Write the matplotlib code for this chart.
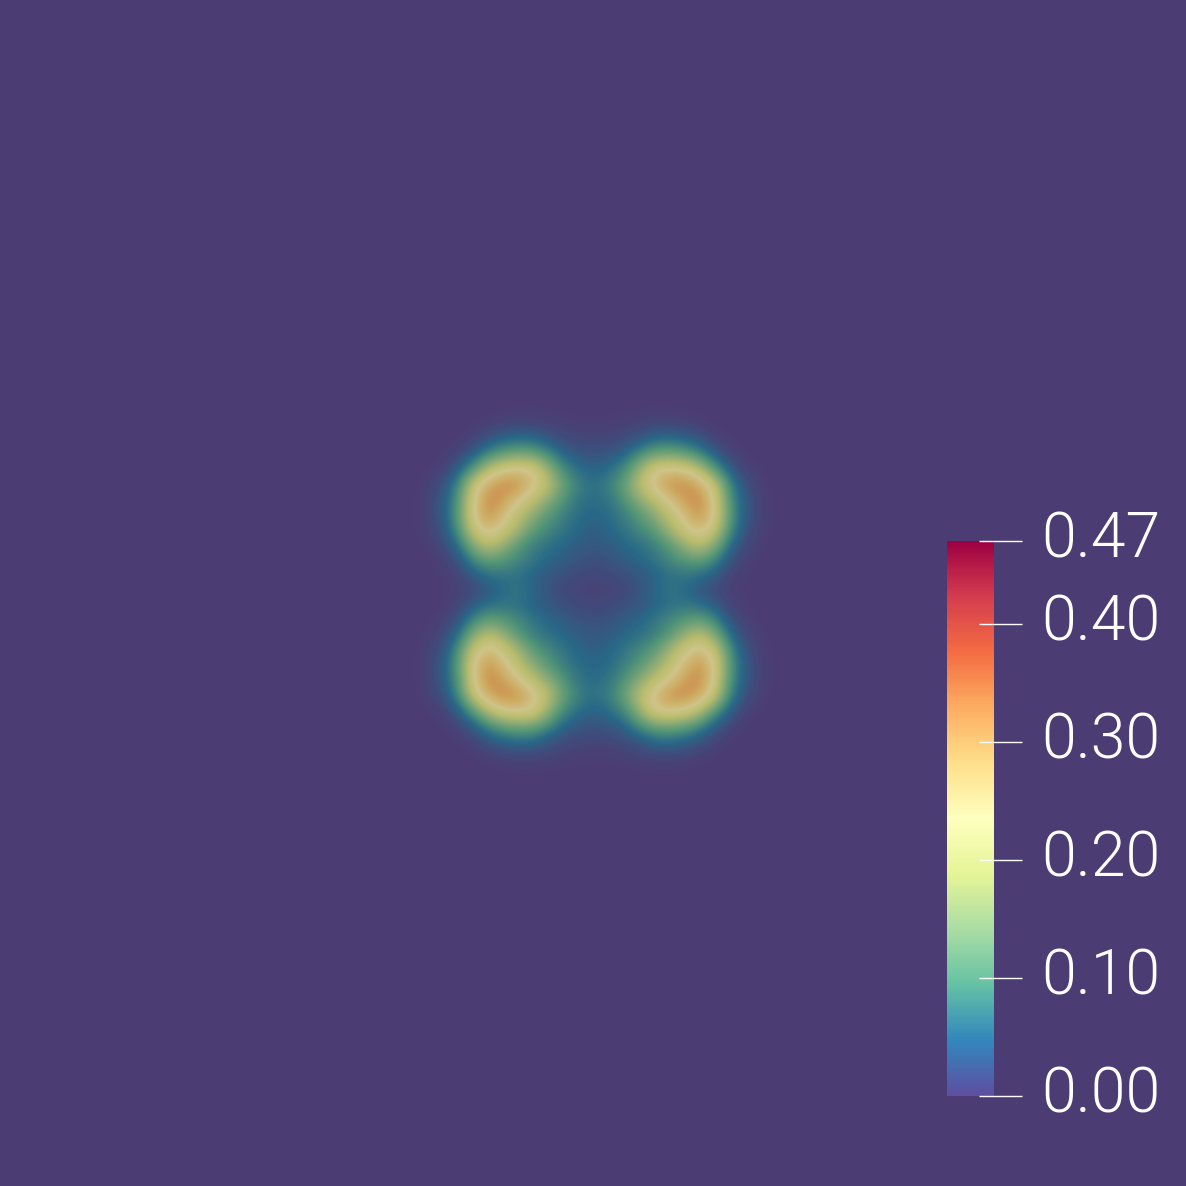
import numpy as np
import matplotlib
matplotlib.use("Agg")
import matplotlib.pyplot as plt
from matplotlib.colors import ListedColormap
from matplotlib.transforms import blended_transform_factory

plt.rcParams['font.family'] = ['Roboto', 'DejaVu Sans']

# Scalar field, upper-left quadrant (outer corner to centre); the other three are mirrors
quadrant = [
    [0, 0, 0, 0, 0, 0, .001, .002, .002, .001, .001, .001, .001],
    [0, 0, 0, 0, .001, .005, .01, .012, .012, .008, .005, .003, .003],
    [0, 0, 0, .001, .01, .03, .045, .055, .05, .03, .018, .012, .012],
    [0, 0, .001, .012, .04, .085, .115, .13, .12, .085, .045, .03, .025],
    [0, .002, .008, .04, .105, .19, .24, .25, .24, .15, .08, .055, .04],
    [0, .005, .025, .08, .21, .29, .32, .315, .245, .185, .11, .07, .055],
    [.001, .008, .035, .095, .235, .325, .30, .235, .19, .14, .09, .06, .05],
    [.001, .008, .035, .105, .24, .315, .25, .19, .14, .095, .07, .05, .045],
    [.001, .006, .028, .09, .21, .26, .215, .16, .10, .08, .06, .045, .035],
    [0, .003, .015, .055, .14, .19, .15, .095, .07, .055, .045, .035, .03],
    [0, .001, .006, .025, .08, .11, .095, .08, .06, .045, .035, .025, .02],
    [0, 0, .002, .01, .035, .055, .06, .055, .04, .03, .02, .015, .012],
    [0, 0, .001, .005, .015, .03, .05, .06, .045, .025, .012, .008, .005],
]
value_min = 0.0
value_max = 0.47
tick_values = [0.00, 0.10, 0.20, 0.30, 0.40, 0.47]
tick_labels = ["0.00", "0.10", "0.20", "0.30", "0.40", "0.47"]

q = np.array(quadrant)
top = np.hstack([q, q[:, -2::-1]])
field = np.vstack([top, top[-2::-1, :]])
field = np.pad(field, 35)

base = plt.get_cmap("Spectral_r")(np.linspace(0, 1, 256))[:, :3]
dim = np.clip(base * np.array([0.81, 0.77, 0.72]), 0, 1)
field_cmap = ListedColormap(dim)
bg = dim[0]

fig = plt.figure(figsize=(11.86, 11.86), dpi=100, facecolor=bg)
ax = fig.add_axes([0, 0, 1, 1])
ax.set_facecolor(bg)
step = 15
cx, cy = 594, 590
n = field.shape[0]
half = (n - 1) / 2 * step
ax.imshow(field, cmap=field_cmap, vmin=value_min, vmax=value_max,
          interpolation="bicubic", interpolation_stage="data",
          extent=[cx - half - step / 2, cx + half + step / 2,
                  cy + half + step / 2, cy - half - step / 2], zorder=1)
ax.set_xlim(0, 1186)
ax.set_ylim(1186, 0)
ax.axis("off")

H = 1186
cax = fig.add_axes([947 / H, (H - 1096) / H, 47 / H, 555 / H])
ramp = np.linspace(value_min, value_max, 256).reshape(-1, 1)
cax.imshow(ramp, cmap="Spectral_r", aspect="auto", origin="lower",
           extent=[0, 1, value_min, value_max], interpolation="nearest")
cax.set_xlim(0, 1)
cax.set_ylim(value_min, value_max)
cax.axis("off")

tr = blended_transform_factory(fig.transFigure, cax.transData)
for v, lab in zip(tick_values, tick_labels):
    cax.plot([979 / H, 1022 / H], [v, v], transform=tr, color="white",
             lw=1.0, clip_on=False, solid_capstyle="butt", zorder=5)
    cax.annotate(lab, xy=(1041 / H, v), xycoords=tr, xytext=(0, 7 * 0.72),
                 textcoords="offset points", color="white", fontsize=45,
                 fontweight=300, ha="left", va="center_baseline", annotation_clip=False)

fig.savefig("out.png", dpi=100, facecolor=bg)
